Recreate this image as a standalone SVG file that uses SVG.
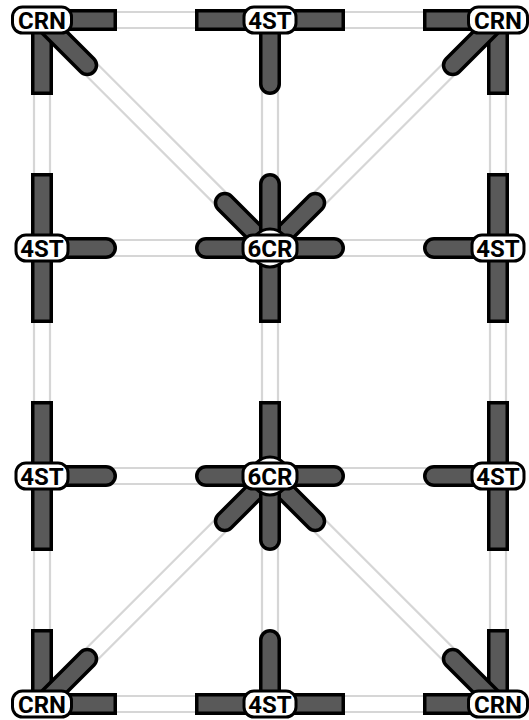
<svg xmlns="http://www.w3.org/2000/svg" width="529" height="720" viewBox="0 0 529 720">
<style>
.rail{stroke:#d6d6d6;stroke-width:2.2;fill:none}
.ab{stroke:#000;stroke-width:22;stroke-linecap:butt}
.ag{stroke:#595959;stroke-width:15;stroke-linecap:butt}
.abr{stroke:#000;stroke-width:22;stroke-linecap:round}
.agr{stroke:#595959;stroke-width:15;stroke-linecap:round}
.lbl{fill:#fff;stroke:#000;stroke-width:3}
.hub{fill:#fff;stroke:#000;stroke-width:3}
.t{font-family:Roboto,"Liberation Sans",sans-serif;font-weight:700;font-size:24px;text-anchor:middle;fill:#000}
</style>
<defs>
<g id="armS"><line x1="0" y1="0" x2="75" y2="0" class="ab"/><line x1="0" y1="0" x2="71.5" y2="0" class="ag"/></g>
<g id="armR"><line x1="0" y1="0" x2="64" y2="0" class="abr"/><line x1="0" y1="0" x2="64" y2="0" class="agr"/></g>
</defs>
<g id="connectors">
<line class="rail" x1="42" y1="12" x2="498" y2="12"/><line class="rail" x1="42" y1="28" x2="498" y2="28"/>
<line class="rail" x1="42" y1="240" x2="498" y2="240"/><line class="rail" x1="42" y1="256" x2="498" y2="256"/>
<line class="rail" x1="42" y1="468" x2="498" y2="468"/><line class="rail" x1="42" y1="484" x2="498" y2="484"/>
<line class="rail" x1="42" y1="696" x2="498" y2="696"/><line class="rail" x1="42" y1="712" x2="498" y2="712"/>
<line class="rail" x1="34" y1="20" x2="34" y2="704"/><line class="rail" x1="50" y1="20" x2="50" y2="704"/>
<line class="rail" x1="262" y1="20" x2="262" y2="704"/><line class="rail" x1="278" y1="20" x2="278" y2="704"/>
<line class="rail" x1="490" y1="20" x2="490" y2="704"/><line class="rail" x1="506" y1="20" x2="506" y2="704"/>
<line class="rail" x1="47.66" y1="14.34" x2="275.66" y2="242.34"/><line class="rail" x1="36.34" y1="25.66" x2="264.34" y2="253.66"/>
<line class="rail" x1="503.66" y1="25.66" x2="275.66" y2="253.66"/><line class="rail" x1="492.34" y1="14.34" x2="264.34" y2="242.34"/>
<line class="rail" x1="275.66" y1="481.66" x2="47.66" y2="709.66"/><line class="rail" x1="264.34" y1="470.34" x2="36.34" y2="698.34"/>
<line class="rail" x1="275.66" y1="470.34" x2="503.66" y2="698.34"/><line class="rail" x1="264.34" y1="481.66" x2="492.34" y2="709.66"/>
</g>
<g id="crn-tl" transform="translate(42,20)">
<use href="#armS"/><use href="#armS" transform="rotate(90)"/><use href="#armR" transform="rotate(45)"/>
<rect class="lbl" x="-29.5" y="-13" width="59" height="26" rx="10"/><text class="t" y="8.5">CRN</text>
</g>
<g id="st-top" transform="translate(270,20)">
<use href="#armS" transform="rotate(180)"/><use href="#armS"/><use href="#armR" transform="rotate(90)"/>
<rect class="lbl" x="-26" y="-13" width="52" height="26" rx="10"/><text class="t" y="8.5">4ST</text>
</g>
<g id="crn-tr" transform="translate(498,20)">
<use href="#armS" transform="rotate(180)"/><use href="#armS" transform="rotate(90)"/><use href="#armR" transform="rotate(135)"/>
<rect class="lbl" x="-29.5" y="-13" width="59" height="26" rx="10"/><text class="t" y="8.5">CRN</text>
</g>
<g id="st-l2" transform="translate(42,248)">
<use href="#armS" transform="rotate(270)"/><use href="#armS" transform="rotate(90)"/><use href="#armR"/>
<rect class="lbl" x="-26" y="-13" width="52" height="26" rx="10"/><text class="t" y="8.5">4ST</text>
</g>
<g id="cr-2" transform="translate(270,248)">
<use href="#armR" transform="rotate(225)"/><use href="#armR" transform="rotate(315)"/>
<use href="#armR" transform="rotate(270)"/><use href="#armS" transform="rotate(90)"/>
<use href="#armR" transform="rotate(180)"/><use href="#armR"/>
<circle class="hub" cx="0" cy="0" r="19"/>
<rect class="lbl" x="-27" y="-13" width="54" height="26" rx="10"/><text class="t" y="8.5">6CR</text>
</g>
<g id="st-r2" transform="translate(498,248)">
<use href="#armS" transform="rotate(270)"/><use href="#armS" transform="rotate(90)"/><use href="#armR" transform="rotate(180)"/>
<rect class="lbl" x="-26" y="-13" width="52" height="26" rx="10"/><text class="t" y="8.5">4ST</text>
</g>
<g id="st-l3" transform="translate(42,476)">
<use href="#armS" transform="rotate(270)"/><use href="#armS" transform="rotate(90)"/><use href="#armR"/>
<rect class="lbl" x="-26" y="-13" width="52" height="26" rx="10"/><text class="t" y="8.5">4ST</text>
</g>
<g id="cr-3" transform="translate(270,476)">
<use href="#armR" transform="rotate(135)"/><use href="#armR" transform="rotate(45)"/>
<use href="#armS" transform="rotate(270)"/><use href="#armR" transform="rotate(90)"/>
<use href="#armR" transform="rotate(180)"/><use href="#armR"/>
<circle class="hub" cx="0" cy="0" r="19"/>
<rect class="lbl" x="-27" y="-13" width="54" height="26" rx="10"/><text class="t" y="8.5">6CR</text>
</g>
<g id="st-r3" transform="translate(498,476)">
<use href="#armS" transform="rotate(270)"/><use href="#armS" transform="rotate(90)"/><use href="#armR" transform="rotate(180)"/>
<rect class="lbl" x="-26" y="-13" width="52" height="26" rx="10"/><text class="t" y="8.5">4ST</text>
</g>
<g id="crn-bl" transform="translate(42,704)">
<use href="#armS"/><use href="#armS" transform="rotate(270)"/><use href="#armR" transform="rotate(315)"/>
<rect class="lbl" x="-29.5" y="-13" width="59" height="26" rx="10"/><text class="t" y="8.5">CRN</text>
</g>
<g id="st-bot" transform="translate(270,704)">
<use href="#armS" transform="rotate(180)"/><use href="#armS"/><use href="#armR" transform="rotate(270)"/>
<rect class="lbl" x="-26" y="-13" width="52" height="26" rx="10"/><text class="t" y="8.5">4ST</text>
</g>
<g id="crn-br" transform="translate(498,704)">
<use href="#armS" transform="rotate(180)"/><use href="#armS" transform="rotate(270)"/><use href="#armR" transform="rotate(225)"/>
<rect class="lbl" x="-29.5" y="-13" width="59" height="26" rx="10"/><text class="t" y="8.5">CRN</text>
</g>
</svg>
